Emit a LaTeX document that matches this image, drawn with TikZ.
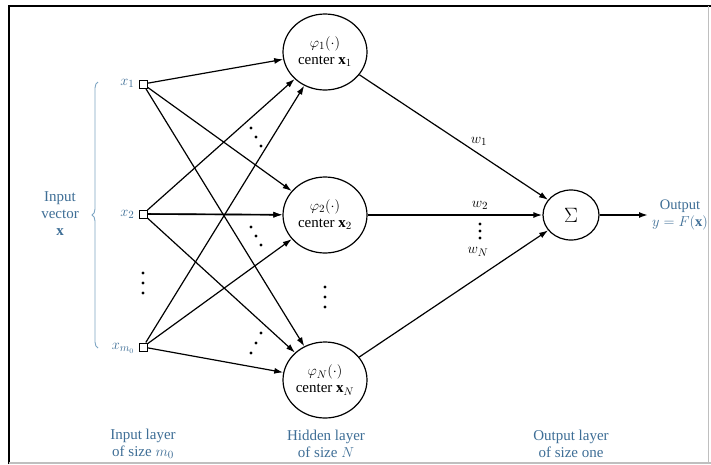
\documentclass[tikz,border=0pt]{standalone}
\usepackage{fontspec}
\setmainfont{Liberation Serif}
\usetikzlibrary{shapes.geometric,arrows.meta,decorations.pathreplacing}
\definecolor{lblue}{RGB}{62,110,150}
\definecolor{bracecol}{RGB}{125,165,195}
\begin{document}
\begin{tikzpicture}[x=1pt,y=-1pt,
  font=\fontsize{15}{17}\selectfont,
  hid/.style={ellipse, draw, line width=1.2pt, minimum width=84pt, minimum height=76pt, inner sep=0pt, align=center},
  sumnode/.style={ellipse, draw, line width=1.2pt, minimum width=56pt, minimum height=50pt, inner sep=0pt},
  inbox/.style={draw, line width=1pt, minimum size=8pt, inner sep=0pt, fill=white},
  conn/.style={line width=1.2pt, -{Latex[length=9pt,width=6pt]}},
  lbl/.style={text=lblue, align=center},
  dotc/.style={fill=black}]
\useasboundingbox (0,0) rectangle (711,464);
\fill[white] (0,0) rectangle (711,464);
% frame
\draw[line width=2pt] (9,464) -- (9,6) -- (711,6);
\draw[line width=1.2pt, black!25] (9,463) -- (711,463);
\draw[line width=1pt, black!25] (708,6) -- (708,463);

% input nodes
\node[inbox] (i1) at (143,84) {};
\node[inbox] (i2) at (143,214) {};
\node[inbox] (i3) at (143,347) {};
\node[lbl, anchor=east] (li1) at (138,83) {$x_1$};
\node[lbl, anchor=east] (li2) at (138,214) {$x_2$};
\node[lbl, anchor=east] (li3) at (138,348) {$x_{m_0}$};

% hidden nodes
\node[hid] (h1) at (325,52) {$\varphi_1(\cdot)$\\center $\mathbf{x}_1$};
\node[hid] (h2) at (325,215) {$\varphi_2(\cdot)$\\center $\mathbf{x}_2$};
\node[hid] (h3) at (325,380) {$\varphi_N(\cdot)$\\center $\mathbf{x}_N$};

% output node
\node[sumnode, font=\fontsize{20}{20}\selectfont] (s) at (571,215) {$\Sigma$};
\coordinate (out) at (648,215);

% connections input -> hidden
\foreach \i in {i1,i2,i3}{
  \foreach \h in {h1,h2,h3}{
    \draw[conn] (\i) -- (\h);
  }
}
\draw[conn, line width=1.6pt] (i2) -- (h2);
% hidden -> output
\draw[conn] (h1) -- (s);
\draw[conn, line width=1.6pt] (h2) -- (s);
\draw[conn] (h3) -- (s);
\draw[conn, line width=1.6pt] (s) -- (out);

% weights
\node (w1) at (479,141) {$w_1$};
\node (w2) at (480,205) {$w_2$};
\node (wN) at (478,252) {$w_N$};

% dots
\foreach \y in {273,283,293} \fill[dotc] (143,\y) circle (1.7);
\foreach \y in {287,297,307} \fill[dotc] (325,\y) circle (1.7);
\foreach \y in {224,231,238} \fill[dotc] (480,\y) circle (1.7);
\foreach \p in {(251,128),(256,137),(261,146),(251,227),(256,236),(261,245),(261,333),(256,343),(251,353)} \fill[dotc] \p circle (1.7);

% brace
\draw[bracecol, line width=0.9pt, decorate, decoration={brace, amplitude=6pt}] (98,348) -- (98,82);
\node[lbl] (iv) at (60,214) {Input\\vector\\$\mathbf{x}$};

% output label
\node[lbl, font=\fontsize{14.5}{17}\selectfont, inner sep=1pt] (ol) at (680,215) {Output\\$y = F(\mathbf{x})$};

% layer labels
\node[lbl] (l1) at (143,444) {Input layer\\of size $m_0$};
\node[lbl] (l2) at (326,444) {Hidden layer\\of size $N$};
\node[lbl] (l3) at (571,444) {Output layer\\of size one};
\end{tikzpicture}
\end{document}
